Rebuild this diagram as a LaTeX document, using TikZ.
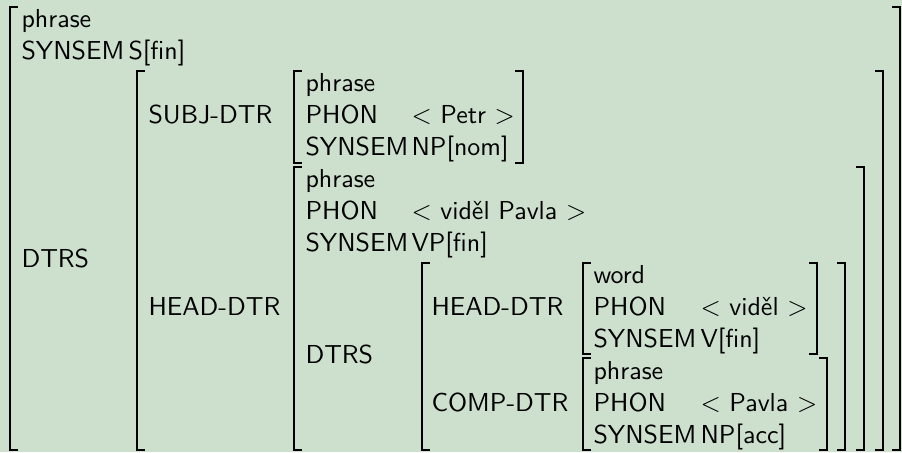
\documentclass[tikz,border=0pt]{standalone}
\usepackage{xcolor}
\usepackage{tikz}
\definecolor{avmbg}{RGB}{205,224,206}

\begin{document}
\begin{tikzpicture}[
    x=0.385pt, y=-0.385pt,
    lbl/.style={anchor=base west, inner sep=0pt, font=\sffamily},
    brk/.style={line width=0.7pt, draw=black}
]
    \fill [avmbg] (0,0) rectangle (902,452);

    % outer phrase
    \node [lbl] (typ) at (21,27) {phrase};
    \node [lbl] (ss) at (21,59) {SYNSEM};
    \node [lbl] (ssv) at (128,59) {S[fin]};
    \node [lbl] (dtrs) at (21,267) {DTRS};

    % daughters
    \node [lbl] (subj) at (148,123) {SUBJ-DTR};
    \node [lbl] (head) at (148,315) {HEAD-DTR};

    % subject daughter
    \node [lbl] (styp) at (305,91) {phrase};
    \node [lbl] (sph) at (305,123) {PHON};
    \node [lbl] (sphv) at (411,123) {$<$ Petr $>$};
    \node [lbl] (sss) at (305,155) {SYNSEM};
    \node [lbl] (sssv) at (411,155) {NP[nom]};

    % head daughter
    \node [lbl] (htyp) at (305,187) {phrase};
    \node [lbl] (hph) at (305,219) {PHON};
    \node [lbl] (hphv) at (411,219) {$<$ viděl Pavla $>$};
    \node [lbl] (hss) at (305,251) {SYNSEM};
    \node [lbl] (hssv) at (411,251) {VP[fin]};
    \node [lbl] (hdtrs) at (305,363) {DTRS};

    \node [lbl] (hhead) at (431,315) {HEAD-DTR};
    \node [lbl] (hcomp) at (431,411) {COMP-DTR};

    % word
    \node [lbl] (wtyp) at (593,283) {word};
    \node [lbl] (wph) at (593,315) {PHON};
    \node [lbl] (wphv) at (700,315) {$<$ viděl $>$};
    \node [lbl] (wss) at (593,347) {SYNSEM};
    \node [lbl] (wssv) at (700,347) {V[fin]};

    % complement
    \node [lbl] (ctyp) at (593,379) {phrase};
    \node [lbl] (cph) at (593,411) {PHON};
    \node [lbl] (cphv) at (700,411) {$<$ Pavla $>$};
    \node [lbl] (css) at (593,443) {SYNSEM};
    \node [lbl] (cssv) at (700,443) {NP[acc]};

    % brackets
    \foreach \x/\t/\b in {10/7/450, 137/71/450, 294/71/163, 294/167/450, 422/263/450, 583/263/354, 583/358/450}
        \draw [brk] (\x+8,\t) -- (\x,\t) -- (\x,\b) -- (\x+8,\b);
    \foreach \x/\t/\b in {900/7/450, 883/71/450, 523/71/163, 864/167/450, 845/263/450, 817/263/354, 827/358/450}
        \draw [brk] (\x-8,\t) -- (\x,\t) -- (\x,\b) -- (\x-8,\b);
\end{tikzpicture}
\end{document}
